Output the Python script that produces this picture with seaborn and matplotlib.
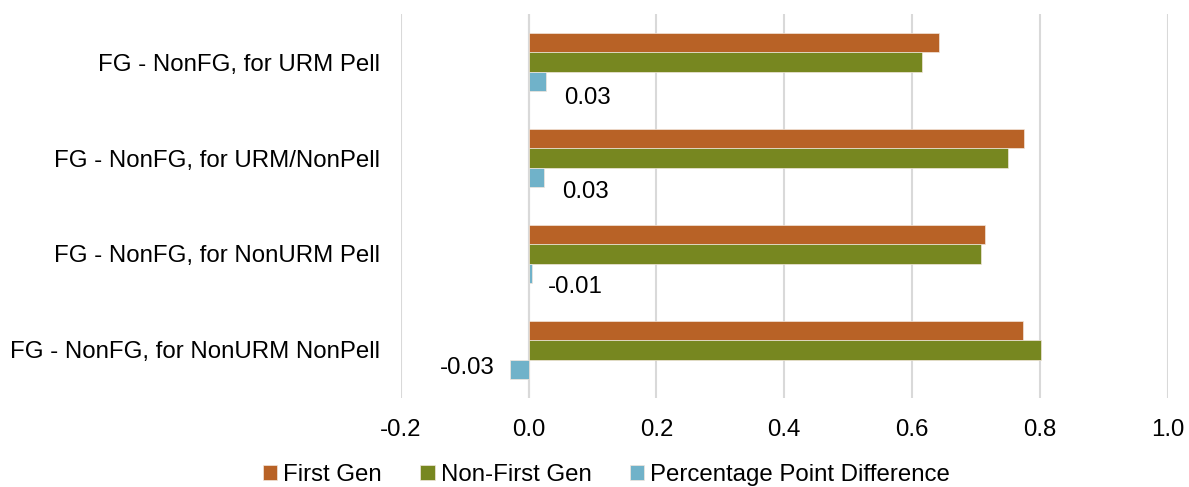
import matplotlib
matplotlib.use("Agg")
import matplotlib.pyplot as plt
import seaborn as sns
import pandas as pd

categories = ["FG - NonFG, for URM Pell", "FG - NonFG, for URM/NonPell",
              "FG - NonFG, for NonURM Pell", "FG - NonFG, for NonURM NonPell"]
series = ["First Gen", "Non-First Gen", "Percentage Point Difference"]
first_gen = [0.642, 0.776, 0.714, 0.773]
non_first_gen = [0.615, 0.750, 0.708, 0.802]
pp_diff = [0.028, 0.025, 0.005, -0.029]
diff_labels = ["0.03", "0.03", "-0.01", "-0.03"]
xticks = [-0.2, 0.0, 0.2, 0.4, 0.6, 0.8, 1.0]

colors = ["#B86226", "#778720", "#70B2C9"]

rows = []
for s, vals in zip(series, [first_gen, non_first_gen, pp_diff]):
    for c, v in zip(categories, vals):
        rows.append({"category": c, "series": s, "value": v})
df = pd.DataFrame(rows)

sns.set_theme(style="white")
plt.rcParams["font.family"] = ["Liberation Sans", "DejaVu Sans"]
plt.rcParams["text.color"] = "black"

FS = 17.3

fig = plt.figure(figsize=(11.89, 4.87), dpi=100)
ax = fig.add_axes([0.337, 0.183, 0.645, 0.788])

sns.barplot(data=df, y="category", x="value", hue="series", orient="h",
            palette=colors, saturation=1, width=0.61, order=categories,
            hue_order=series, edgecolor="#f2e6dc", linewidth=0.5, ax=ax,
            legend=True)

ax.set_xlim(-0.2, 1.0)
ax.set_xticks(xticks)
ax.set_xticklabels([f"{t:.1f}" for t in xticks])
ax.set_ylim(3.5, -0.5)
ax.set_xlabel("")
ax.set_ylabel("")
ax.xaxis.grid(True, color="#d9d9d9", linewidth=1.5)
ax.set_axisbelow(True)
for sp in ax.spines.values():
    sp.set_visible(False)
ax.axvline(0, color="#d9d9d9", linewidth=1.5, zorder=0.5)
ax.tick_params(axis="both", length=0, labelsize=FS, colors="black")
ax.tick_params(axis="y", pad=15)
ax.tick_params(axis="x", pad=15)

# Data labels for the difference series
label_pos = [(0.056, 0.375, "left"), (0.052, 0.354, "left"),
             (0.03, 0.34, "left"), (-0.053, 0.19, "right")]
for i, (lab, (dx, dy, ha)) in enumerate(zip(diff_labels, label_pos)):
    ax.text(dx, i + dy, lab, ha=ha, va="center", fontsize=FS, color="black")

handles, labels = ax.get_legend_handles_labels()
ax.get_legend().remove()
fig.legend(handles, labels, loc="center", bbox_to_anchor=(0.51, 0.025), ncol=3,
           frameon=False, fontsize=FS, handlelength=0.6, handleheight=0.6,
           handletextpad=0.25, columnspacing=1.6, borderaxespad=0)

fig.savefig("out.png", dpi=100)
